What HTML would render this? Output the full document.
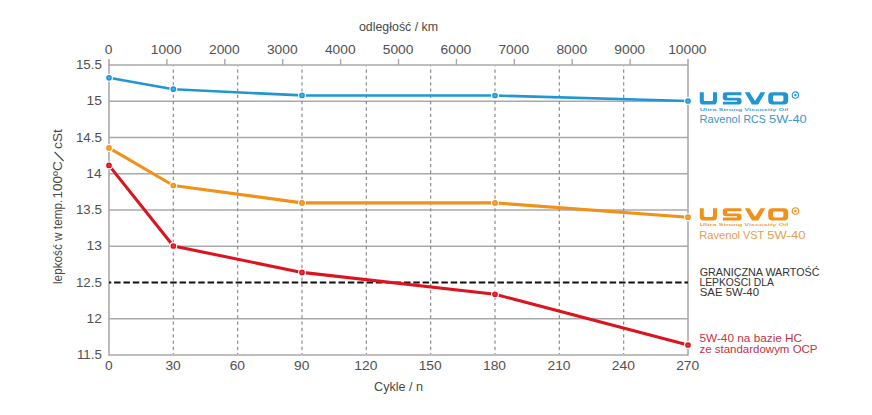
<!DOCTYPE html>
<html><head><meta charset="utf-8"><style>
html,body{margin:0;padding:0;background:#fff;width:872px;height:415px;overflow:hidden}
svg{display:block;font-family:"Liberation Sans",sans-serif}
</style></head><body>
<svg width="872" height="415" viewBox="0 0 872 415">
<rect width="872" height="415" fill="#fff"/>
<line x1="109.0" y1="65.00" x2="688.0" y2="65.00" stroke="#a9a9a9" stroke-width="1.5"/>
<line x1="109.0" y1="101.25" x2="688.0" y2="101.25" stroke="#a9a9a9" stroke-width="1.5"/>
<line x1="109.0" y1="137.50" x2="688.0" y2="137.50" stroke="#a9a9a9" stroke-width="1.5"/>
<line x1="109.0" y1="173.75" x2="688.0" y2="173.75" stroke="#a9a9a9" stroke-width="1.5"/>
<line x1="109.0" y1="210.00" x2="688.0" y2="210.00" stroke="#a9a9a9" stroke-width="1.5"/>
<line x1="109.0" y1="246.25" x2="688.0" y2="246.25" stroke="#a9a9a9" stroke-width="1.5"/>
<line x1="109.0" y1="318.75" x2="688.0" y2="318.75" stroke="#a9a9a9" stroke-width="1.5"/>
<line x1="109.0" y1="355.00" x2="688.0" y2="355.00" stroke="#a9a9a9" stroke-width="1.5"/>
<line x1="173.33" y1="66.0" x2="173.33" y2="354.0" stroke="#8c8c8c" stroke-width="1.2" stroke-dasharray="3.3 3.0" stroke-dashoffset="2.75"/>
<line x1="237.67" y1="66.0" x2="237.67" y2="354.0" stroke="#8c8c8c" stroke-width="1.2" stroke-dasharray="3.3 3.0" stroke-dashoffset="2.75"/>
<line x1="302.00" y1="66.0" x2="302.00" y2="354.0" stroke="#8c8c8c" stroke-width="1.2" stroke-dasharray="3.3 3.0" stroke-dashoffset="2.75"/>
<line x1="366.33" y1="66.0" x2="366.33" y2="354.0" stroke="#8c8c8c" stroke-width="1.2" stroke-dasharray="3.3 3.0" stroke-dashoffset="2.75"/>
<line x1="430.67" y1="66.0" x2="430.67" y2="354.0" stroke="#8c8c8c" stroke-width="1.2" stroke-dasharray="3.3 3.0" stroke-dashoffset="2.75"/>
<line x1="495.00" y1="66.0" x2="495.00" y2="354.0" stroke="#8c8c8c" stroke-width="1.2" stroke-dasharray="3.3 3.0" stroke-dashoffset="2.75"/>
<line x1="559.33" y1="66.0" x2="559.33" y2="354.0" stroke="#8c8c8c" stroke-width="1.2" stroke-dasharray="3.3 3.0" stroke-dashoffset="2.75"/>
<line x1="623.67" y1="66.0" x2="623.67" y2="354.0" stroke="#8c8c8c" stroke-width="1.2" stroke-dasharray="3.3 3.0" stroke-dashoffset="2.75"/>
<line x1="109.0" y1="59" x2="109.0" y2="355.75" stroke="#a9a9a9" stroke-width="1.6"/>
<line x1="688.0" y1="59" x2="688.0" y2="355.75" stroke="#a9a9a9" stroke-width="1.6"/>
<line x1="166.90" y1="59" x2="166.90" y2="65.0" stroke="#a9a9a9" stroke-width="1.4"/>
<line x1="224.80" y1="59" x2="224.80" y2="65.0" stroke="#a9a9a9" stroke-width="1.4"/>
<line x1="282.70" y1="59" x2="282.70" y2="65.0" stroke="#a9a9a9" stroke-width="1.4"/>
<line x1="340.60" y1="59" x2="340.60" y2="65.0" stroke="#a9a9a9" stroke-width="1.4"/>
<line x1="398.50" y1="59" x2="398.50" y2="65.0" stroke="#a9a9a9" stroke-width="1.4"/>
<line x1="456.40" y1="59" x2="456.40" y2="65.0" stroke="#a9a9a9" stroke-width="1.4"/>
<line x1="514.30" y1="59" x2="514.30" y2="65.0" stroke="#a9a9a9" stroke-width="1.4"/>
<line x1="572.20" y1="59" x2="572.20" y2="65.0" stroke="#a9a9a9" stroke-width="1.4"/>
<line x1="630.10" y1="59" x2="630.10" y2="65.0" stroke="#a9a9a9" stroke-width="1.4"/>
<line x1="109.0" y1="282.50" x2="688.0" y2="282.50" stroke="#111" stroke-width="1.9" stroke-dasharray="6.5 2.85" stroke-dashoffset="4.25"/>
<polyline points="109.00,77.80 173.33,89.20 302.00,95.40 495.00,95.50 688.00,101.00" fill="none" stroke="#2196d3" stroke-width="2.6" stroke-linejoin="round"/>
<circle cx="109.00" cy="77.80" r="3.4" fill="#2196d3" stroke="#fff" stroke-width="1.1"/>
<circle cx="109.00" cy="77.80" r="1.3" fill="#3cb4ec"/>
<circle cx="173.33" cy="89.20" r="3.4" fill="#2196d3" stroke="#fff" stroke-width="1.1"/>
<circle cx="173.33" cy="89.20" r="1.3" fill="#3cb4ec"/>
<circle cx="302.00" cy="95.40" r="3.4" fill="#2196d3" stroke="#fff" stroke-width="1.1"/>
<circle cx="302.00" cy="95.40" r="1.3" fill="#3cb4ec"/>
<circle cx="495.00" cy="95.50" r="3.4" fill="#2196d3" stroke="#fff" stroke-width="1.1"/>
<circle cx="495.00" cy="95.50" r="1.3" fill="#3cb4ec"/>
<circle cx="688.00" cy="101.00" r="3.4" fill="#2196d3" stroke="#fff" stroke-width="1.1"/>
<circle cx="688.00" cy="101.00" r="1.3" fill="#3cb4ec"/>
<polyline points="109.00,147.90 173.33,185.50 302.00,202.90 495.00,202.90 688.00,217.20" fill="none" stroke="#f0911a" stroke-width="3.1" stroke-linejoin="round"/>
<circle cx="109.00" cy="147.90" r="3.4" fill="#f0911a" stroke="#fff" stroke-width="1.1"/>
<circle cx="109.00" cy="147.90" r="1.3" fill="#f8a83a"/>
<circle cx="173.33" cy="185.50" r="3.4" fill="#f0911a" stroke="#fff" stroke-width="1.1"/>
<circle cx="173.33" cy="185.50" r="1.3" fill="#f8a83a"/>
<circle cx="302.00" cy="202.90" r="3.4" fill="#f0911a" stroke="#fff" stroke-width="1.1"/>
<circle cx="302.00" cy="202.90" r="1.3" fill="#f8a83a"/>
<circle cx="495.00" cy="202.90" r="3.4" fill="#f0911a" stroke="#fff" stroke-width="1.1"/>
<circle cx="495.00" cy="202.90" r="1.3" fill="#f8a83a"/>
<circle cx="688.00" cy="217.20" r="3.4" fill="#f0911a" stroke="#fff" stroke-width="1.1"/>
<circle cx="688.00" cy="217.20" r="1.3" fill="#f8a83a"/>
<polyline points="109.00,165.40 173.33,246.00 302.00,272.40 495.00,294.30 688.00,345.00" fill="none" stroke="#da1520" stroke-width="3.1" stroke-linejoin="round"/>
<circle cx="109.00" cy="165.40" r="3.4" fill="#da1520" stroke="#fff" stroke-width="1.1"/>
<circle cx="109.00" cy="165.40" r="1.3" fill="#f0303a"/>
<circle cx="173.33" cy="246.00" r="3.4" fill="#da1520" stroke="#fff" stroke-width="1.1"/>
<circle cx="173.33" cy="246.00" r="1.3" fill="#f0303a"/>
<circle cx="302.00" cy="272.40" r="3.4" fill="#da1520" stroke="#fff" stroke-width="1.1"/>
<circle cx="302.00" cy="272.40" r="1.3" fill="#f0303a"/>
<circle cx="495.00" cy="294.30" r="3.4" fill="#da1520" stroke="#fff" stroke-width="1.1"/>
<circle cx="495.00" cy="294.30" r="1.3" fill="#f0303a"/>
<circle cx="688.00" cy="345.00" r="3.4" fill="#da1520" stroke="#fff" stroke-width="1.1"/>
<circle cx="688.00" cy="345.00" r="1.3" fill="#f0303a"/>
<text x="104.76" y="54.20" font-size="12" fill="#505050" textLength="7.67" lengthAdjust="spacingAndGlyphs" >0</text>
<text x="150.89" y="54.20" font-size="12" fill="#505050" textLength="30.70" lengthAdjust="spacingAndGlyphs" >1000</text>
<text x="208.97" y="54.20" font-size="12" fill="#505050" textLength="30.70" lengthAdjust="spacingAndGlyphs" >2000</text>
<text x="266.95" y="54.20" font-size="12" fill="#505050" textLength="30.70" lengthAdjust="spacingAndGlyphs" >3000</text>
<text x="324.96" y="54.20" font-size="12" fill="#505050" textLength="30.70" lengthAdjust="spacingAndGlyphs" >4000</text>
<text x="382.74" y="54.20" font-size="12" fill="#505050" textLength="30.70" lengthAdjust="spacingAndGlyphs" >5000</text>
<text x="440.57" y="54.20" font-size="12" fill="#505050" textLength="30.70" lengthAdjust="spacingAndGlyphs" >6000</text>
<text x="498.46" y="54.20" font-size="12" fill="#505050" textLength="30.70" lengthAdjust="spacingAndGlyphs" >7000</text>
<text x="556.41" y="54.20" font-size="12" fill="#505050" textLength="30.70" lengthAdjust="spacingAndGlyphs" >8000</text>
<text x="614.30" y="54.20" font-size="12" fill="#505050" textLength="30.70" lengthAdjust="spacingAndGlyphs" >9000</text>
<text x="668.16" y="54.20" font-size="12" fill="#505050" textLength="38.37" lengthAdjust="spacingAndGlyphs" >10000</text>
<text x="104.96" y="369.70" font-size="12" fill="#505050" textLength="7.67" lengthAdjust="spacingAndGlyphs" >0</text>
<text x="165.46" y="369.70" font-size="12" fill="#505050" textLength="15.35" lengthAdjust="spacingAndGlyphs" >30</text>
<text x="229.71" y="369.70" font-size="12" fill="#505050" textLength="15.35" lengthAdjust="spacingAndGlyphs" >60</text>
<text x="294.07" y="369.70" font-size="12" fill="#505050" textLength="15.35" lengthAdjust="spacingAndGlyphs" >90</text>
<text x="354.36" y="369.70" font-size="12" fill="#505050" textLength="23.02" lengthAdjust="spacingAndGlyphs" >120</text>
<text x="418.70" y="369.70" font-size="12" fill="#505050" textLength="23.02" lengthAdjust="spacingAndGlyphs" >150</text>
<text x="483.03" y="369.70" font-size="12" fill="#505050" textLength="23.02" lengthAdjust="spacingAndGlyphs" >180</text>
<text x="547.54" y="369.70" font-size="12" fill="#505050" textLength="23.02" lengthAdjust="spacingAndGlyphs" >210</text>
<text x="611.87" y="369.70" font-size="12" fill="#505050" textLength="23.02" lengthAdjust="spacingAndGlyphs" >240</text>
<text x="676.21" y="369.70" font-size="12" fill="#505050" textLength="23.02" lengthAdjust="spacingAndGlyphs" >270</text>
<text x="75.94" y="69.10" font-size="12" fill="#505050" textLength="25.92" lengthAdjust="spacingAndGlyphs" >15.5</text>
<text x="86.53" y="105.35" font-size="12" fill="#505050" textLength="15.35" lengthAdjust="spacingAndGlyphs" >15</text>
<text x="75.94" y="141.60" font-size="12" fill="#505050" textLength="25.92" lengthAdjust="spacingAndGlyphs" >14.5</text>
<text x="86.34" y="177.85" font-size="12" fill="#505050" textLength="15.35" lengthAdjust="spacingAndGlyphs" >14</text>
<text x="75.94" y="214.10" font-size="12" fill="#505050" textLength="25.92" lengthAdjust="spacingAndGlyphs" >13.5</text>
<text x="86.56" y="250.35" font-size="12" fill="#505050" textLength="15.35" lengthAdjust="spacingAndGlyphs" >13</text>
<text x="75.94" y="286.60" font-size="12" fill="#505050" textLength="25.92" lengthAdjust="spacingAndGlyphs" >12.5</text>
<text x="86.64" y="322.85" font-size="12" fill="#505050" textLength="15.35" lengthAdjust="spacingAndGlyphs" >12</text>
<text x="76.92" y="359.10" font-size="12" fill="#505050" textLength="24.94" lengthAdjust="spacingAndGlyphs" >11.5</text>
<text x="358.98" y="30.50" font-size="12" fill="#484848" textLength="79.13" lengthAdjust="spacingAndGlyphs" >odległość / km</text>
<text x="374.07" y="391.20" font-size="12" fill="#484848" textLength="48.94" lengthAdjust="spacingAndGlyphs" >Cykle / n</text>
<g transform="translate(62.3,300.0) rotate(-90)" font-size="12.2" fill="#484848"><text x="16.00" y="0" textLength="84.27" lengthAdjust="spacingAndGlyphs">lepkość w temp.</text><text x="101.47" y="0" textLength="37.24" lengthAdjust="spacingAndGlyphs">100ºC</text><text x="151.13" y="0" textLength="19.66" lengthAdjust="spacingAndGlyphs">cSt</text></g>
<line x1="54.6" y1="152" x2="63.6" y2="161" stroke="#484848" stroke-width="1.1"/>
<g transform="translate(699.8,92.3)" fill="#2196d3"><path d="M0,0 H4.0 V7.4 Q4.0,8.7 5.3,8.7 H11.9 Q13.2,8.7 13.2,7.4 V0 H17.2 V8.6 Q17.2,12.2 13.6,12.2 H3.6 Q0,12.2 0,8.6 Z"/><path transform="translate(23,0)" d="M2.8,0 H18.6 V3 H4.4 V5.4 H15.8 Q18.8,5.4 18.8,8.4 V9.2 Q18.8,12.3 15.8,12.3 H0.2 V9.4 H14.2 V8.1 H2.8 Q0,8.1 0,5.3 V2.8 Q0,0 2.8,0 Z"/><path transform="translate(45,0)" d="M0,0 H4.7 L10.25,8.6 L15.8,0 H20.5 L13.4,12.2 H7.1 Z"/><path transform="translate(68.4,0)" fill-rule="evenodd" d="M4,0 H16 Q20,0 20,4 V8.2 Q20,12.2 16,12.2 H4 Q0,12.2 0,8.2 V4 Q0,0 4,0 Z M6.2,3.3 Q4.8,3.3 4.8,4.7 V7.8 Q4.8,9.2 6.2,9.2 H13.8 Q15.2,9.2 15.2,7.8 V4.7 Q15.2,3.3 13.8,3.3 Z"/><circle cx="95.6" cy="2.8" r="3.2" fill="none" stroke="#2196d3" stroke-width="1.1"/><circle cx="95.6" cy="2.8" r="1.2"/></g>
<text x="699.8" y="110.5" font-size="4.2" font-weight="bold" fill="#2196d3" fill-opacity="0.9" textLength="88.5" lengthAdjust="spacingAndGlyphs">Ultra Strong Viscosity Oil</text>
<g transform="translate(699.8,208.2)" fill="#f0911a"><path d="M0,0 H4.0 V7.4 Q4.0,8.7 5.3,8.7 H11.9 Q13.2,8.7 13.2,7.4 V0 H17.2 V8.6 Q17.2,12.2 13.6,12.2 H3.6 Q0,12.2 0,8.6 Z"/><path transform="translate(23,0)" d="M2.8,0 H18.6 V3 H4.4 V5.4 H15.8 Q18.8,5.4 18.8,8.4 V9.2 Q18.8,12.3 15.8,12.3 H0.2 V9.4 H14.2 V8.1 H2.8 Q0,8.1 0,5.3 V2.8 Q0,0 2.8,0 Z"/><path transform="translate(45,0)" d="M0,0 H4.7 L10.25,8.6 L15.8,0 H20.5 L13.4,12.2 H7.1 Z"/><path transform="translate(68.4,0)" fill-rule="evenodd" d="M4,0 H16 Q20,0 20,4 V8.2 Q20,12.2 16,12.2 H4 Q0,12.2 0,8.2 V4 Q0,0 4,0 Z M6.2,3.3 Q4.8,3.3 4.8,4.7 V7.8 Q4.8,9.2 6.2,9.2 H13.8 Q15.2,9.2 15.2,7.8 V4.7 Q15.2,3.3 13.8,3.3 Z"/><circle cx="95.6" cy="2.8" r="3.2" fill="none" stroke="#f0911a" stroke-width="1.1"/><circle cx="95.6" cy="2.8" r="1.2"/></g>
<text x="699.8" y="226.39999999999998" font-size="4.2" font-weight="bold" fill="#f0911a" fill-opacity="0.9" textLength="88.5" lengthAdjust="spacingAndGlyphs">Ultra Strong Viscosity Oil</text>
<text x="699.59" y="122.80" font-size="11" fill="#3d96c8" textLength="40.65" lengthAdjust="spacingAndGlyphs" >Ravenol</text>
<text x="743.44" y="122.80" font-size="11" fill="#3d96c8" textLength="22.24" lengthAdjust="spacingAndGlyphs" >RCS</text>
<text x="769.09" y="122.80" font-size="11" fill="#3d96c8" textLength="37.59" lengthAdjust="spacingAndGlyphs" >5W-40</text>
<text x="699.19" y="238.80" font-size="11" fill="#e29e50" textLength="40.86" lengthAdjust="spacingAndGlyphs" >Ravenol</text>
<text x="742.96" y="238.80" font-size="11" fill="#e29e50" textLength="21.19" lengthAdjust="spacingAndGlyphs" >VST</text>
<text x="767.28" y="238.80" font-size="11" fill="#e29e50" textLength="38.11" lengthAdjust="spacingAndGlyphs" >5W-40</text>
<text x="699.76" y="275.90" font-size="10.75" fill="#333" textLength="119.74" lengthAdjust="spacingAndGlyphs" >GRANICZNA WARTOŚĆ</text>
<text x="699.46" y="285.80" font-size="10.75" fill="#333" textLength="74.38" lengthAdjust="spacingAndGlyphs" >LEPKOŚCI DLA</text>
<text x="699.78" y="295.70" font-size="10.75" fill="#333" textLength="59.26" lengthAdjust="spacingAndGlyphs" >SAE 5W-40</text>
<text x="699.43" y="342.20" font-size="11.2" fill="#c23444" textLength="102.72" lengthAdjust="spacingAndGlyphs" >5W-40 na bazie HC</text>
<text x="699.44" y="352.50" font-size="11.2" fill="#c23444" textLength="118.08" lengthAdjust="spacingAndGlyphs" >ze standardowym OCP</text>
</svg></body></html>
